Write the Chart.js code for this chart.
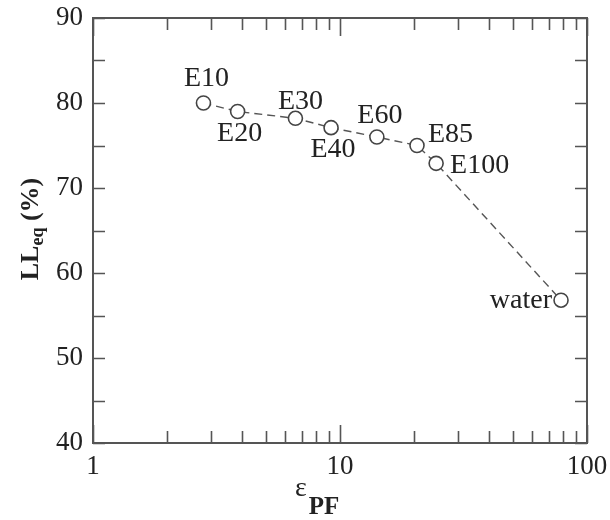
<!DOCTYPE html>
<html>
<head>
<meta charset="utf-8">
<script src="https://cdn.jsdelivr.net/npm/chart.js@4/dist/chart.umd.min.js"></script>
<style>
  html, body { margin: 0; padding: 0; background: #fff; }
  #wrap { width: 610px; height: 520px; }
</style>
</head>
<body>
<div id="wrap"><canvas id="llChart" width="610" height="520"></canvas></div>
<script>
// data
const solvents = ["E10", "E20", "E30", "E40", "E60", "E85", "E100", "water"];
const epsPF = [2.8, 3.85, 6.6, 9.2, 14.1, 20.5, 24.5, 78.5];
const llEq = [80.0, 79.0, 78.2, 77.1, 76.0, 75.0, 72.9, 56.8];

const xTickValues = [1, 2, 3, 4, 5, 6, 7, 8, 9, 10, 20, 30, 40, 50, 60, 70, 80, 90, 100];
const xTickLabels = [1, 10, 100];
const yTickValues = [40, 45, 50, 55, 60, 65, 70, 75, 80, 85, 90];
const yTickLabels = [40, 50, 60, 70, 80, 90];

// where each name sits relative to its point: [dx, dy, align]
const labelPlace = [
    [3, -24, "center"],
    [2, 22, "center"],
    [5, -17, "center"],
    [2, 22, "center"],
    [3, -21, "center"],
    [11, -11, "left"],
    [14, 2, "left"],
    [-9, 0, "right"]
];

const serif = "'Liberation Serif', 'Times New Roman', serif";
const ink = "#222";
const frameColor = "#555";

const points = epsPF.map((x, i) => ({ x: x, y: llEq[i] }));

const framePlugin = {
    id: "frame",
    afterDraw(chart) {
        const ctx = chart.ctx;
        const a = chart.chartArea;
        const xs = chart.scales.x;
        const ys = chart.scales.y;

        ctx.save();
        ctx.strokeStyle = frameColor;
        ctx.lineWidth = 2;
        ctx.strokeRect(a.left, a.top, a.right - a.left, a.bottom - a.top);

        ctx.lineWidth = 1.6;
        ctx.beginPath();
        xTickValues.forEach(v => {
            const px = Math.round(xs.getPixelForValue(v)) + 0.5;
            const len = xTickLabels.includes(v) ? 18 : 12;
            ctx.moveTo(px, a.bottom);
            ctx.lineTo(px, a.bottom - len);
            ctx.moveTo(px, a.top);
            ctx.lineTo(px, a.top + len);
        });
        yTickValues.forEach(v => {
            const py = Math.round(ys.getPixelForValue(v)) + 0.5;
            ctx.moveTo(a.left, py);
            ctx.lineTo(a.left + 12, py);
            ctx.moveTo(a.right, py);
            ctx.lineTo(a.right - 12, py);
        });
        ctx.stroke();

        // point names
        const meta = chart.getDatasetMeta(0);
        ctx.fillStyle = ink;
        ctx.font = "28px " + serif;
        ctx.textBaseline = "middle";
        solvents.forEach((name, i) => {
            const el = meta.data[i];
            const p = labelPlace[i];
            ctx.textAlign = p[2];
            ctx.fillText(name, el.x + p[0], el.y + p[1]);
        });

        // y title: LL_eq (%)
        ctx.save();
        ctx.translate(29, 229);
        ctx.rotate(-Math.PI / 2);
        ctx.textBaseline = "alphabetic";
        ctx.textAlign = "left";
        const bigY = "bold 26px " + serif;
        const smallY = "bold 18px " + serif;
        ctx.font = bigY;
        const wLL = ctx.measureText("LL").width;
        const wPct = ctx.measureText(" (%)").width;
        ctx.font = smallY;
        const wEq = ctx.measureText("eq").width;
        let sx = -(wLL + wEq + wPct) / 2;
        ctx.font = bigY;
        ctx.fillText("LL", sx, 9);
        sx += wLL;
        ctx.font = smallY;
        ctx.fillText("eq", sx, 14);
        sx += wEq;
        ctx.font = bigY;
        ctx.fillText(" (%)", sx, 9);
        ctx.restore();

        // x title: eps_PF
        ctx.textAlign = "left";
        ctx.textBaseline = "alphabetic";
        ctx.font = "28px " + serif;
        ctx.fillText("\u03b5", 295, 496);
        const wE = ctx.measureText("\u03b5").width;
        ctx.font = "bold 25px " + serif;
        ctx.fillText("PF", 295 + wE + 2, 514);

        ctx.restore();
    }
};

new Chart(document.getElementById("llChart"), {
    type: "scatter",
    data: {
        datasets: [{
            data: points,
            showLine: true,
            borderColor: "#555",
            borderWidth: 1.4,
            borderDash: [8, 5],
            pointRadius: 7,
            pointHoverRadius: 7,
            pointBorderWidth: 1.6,
            pointBorderColor: "#444",
            pointBackgroundColor: "#fff"
        }]
    },
    options: {
        responsive: false,
        animation: false,
        events: [],
        layout: { padding: { top: 18, right: 23, left: 0, bottom: 0 } },
        plugins: {
            legend: { display: false },
            tooltip: { enabled: false }
        },
        scales: {
            x: {
                type: "logarithmic",
                min: 1,
                max: 100,
                grid: { display: false, drawTicks: false },
                border: { display: false },
                afterBuildTicks: scale => {
                    scale.ticks = xTickValues.map(v => ({ value: v }));
                },
                afterFit: scale => {
                    scale.height = 77;
                    scale.paddingLeft = 0;
                    scale.paddingRight = 0;
                },
                ticks: {
                    autoSkip: false,
                    maxRotation: 0,
                    padding: 8,
                    color: ink,
                    font: { family: serif, size: 27 },
                    callback: v => xTickLabels.includes(v) ? String(v) : ""
                }
            },
            y: {
                min: 40,
                max: 90,
                grid: { display: false, drawTicks: false },
                border: { display: false },
                afterBuildTicks: scale => {
                    scale.ticks = yTickValues.map(v => ({ value: v }));
                },
                afterFit: scale => {
                    scale.width = 93;
                    scale.paddingTop = 0;
                    scale.paddingBottom = 0;
                },
                ticks: {
                    autoSkip: false,
                    padding: 10,
                    color: ink,
                    font: { family: serif, size: 27 },
                    callback: v => yTickLabels.includes(v) ? String(v) : ""
                }
            }
        }
    },
    plugins: [framePlugin]
});
</script>
</body>
</html>
